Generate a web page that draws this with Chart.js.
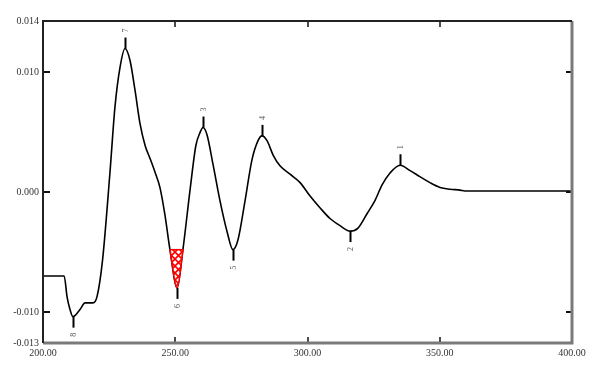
<!DOCTYPE html>
<html><head><meta charset="utf-8">
<script src="https://cdn.jsdelivr.net/npm/chart.js@4"></script>
<style>html,body{margin:0;padding:0;background:#fff}</style>
</head><body>
<canvas id="c" width="597" height="365"></canvas>
<script>
const wavelengths = [200.0,208.0,209.1,210.2,211.3,214.0,215.9,218.9,220.4,222.5,225.3,227.2,229.1,231.0,232.9,234.8,236.7,238.6,240.5,242.3,244.2,246.1,248.0,250.7,252.9,255.6,257.8,259.4,260.5,262.0,264.3,266.9,269.6,271.8,273.7,276.4,279.0,281.3,282.8,284.7,287.0,289.6,293.4,297.2,300.9,304.7,308.5,312.3,316.1,319.1,322.5,325.5,328.2,331.2,335.0,338.8,342.5,346.3,350.1,353.9,357.7,359.5,400.0];
const cdValues = [-0.0070,-0.0070,-0.00875,-0.0098,-0.0104,-0.0098,-0.00925,-0.00925,-0.00875,-0.0057,0.0016,0.0071,0.0104,0.0120,0.0110,0.0085,0.0057,0.0039,0.0028,0.0017,0.0004,-0.0019,-0.0048,-0.0080,-0.0048,0.0002,0.0039,0.0050,0.0054,0.0048,0.0023,-0.0007,-0.0033,-0.0048,-0.0040,-0.0007,0.0027,0.0043,0.0047,0.0043,0.0031,0.0022,0.0015,0.0008,-0.0003,-0.0013,-0.0022,-0.0028,-0.00325,-0.0030,-0.0018,-0.0007,0.0006,0.0016,0.00225,0.0018,0.0013,0.0008,0.0004,0.00025,0.00017,0.0001,0.0001];

const xMin = 200, xMax = 400;
const xTickValues = [200,250,300,350,400];
const xTickLabels = ['200.00','250.00','300.00','350.00','400.00'];
const yMin = -0.0126, yMax = 0.0143;
const yTickValues = [-0.0126,-0.010,0,0.010,0.0143];
const yTickLabels = ['-0.013','-0.010','0.000','0.010','0.014'];

const peakWavelengths = [211.3,231.0,250.7,260.5,271.8,282.8,316.1,335.0];
const peakValues = [-0.0104,0.0120,-0.0080,0.0054,-0.0048,0.0047,-0.00325,0.00225];
const peakLabels = ['8','7','6','3','5','4','2','1'];

const hatchRange = [248.0, 252.9];
const hatchBase = -0.0048;

const curve = wavelengths.map((w,i)=>({x:w,y:cdValues[i]}));
const hatchPts = curve.filter(p=>p.x>=hatchRange[0]&&p.x<=hatchRange[1]);
const hatchTop = hatchRange.map(w=>({x:w,y:hatchBase}));

function makePattern(){
  const pc = document.createElement('canvas');
  pc.width = 7; pc.height = 7;
  const g = pc.getContext('2d');
  g.fillStyle = '#fff'; g.fillRect(0,0,7,7);
  g.strokeStyle = '#ff0000'; g.lineWidth = 1.6;
  g.beginPath(); g.moveTo(0,0); g.lineTo(7,7); g.moveTo(7,0); g.lineTo(0,7); g.stroke();
  return document.getElementById('c').getContext('2d').createPattern(pc,'repeat');
}

const decor = {
  id:'decor',
  afterDatasetsDraw(chart){
    const ctx = chart.ctx, a = chart.chartArea;
    const xs = chart.scales.x, ys = chart.scales.y;
    ctx.save();
    ctx.strokeStyle = '#000'; ctx.lineWidth = 2;
    ctx.font = '8px "Liberation Serif"';
    ctx.fillStyle = '#555';
    ctx.textAlign = 'center'; ctx.textBaseline = 'middle';
    peakWavelengths.forEach((w,i)=>{
      const px = Math.round(xs.getPixelForValue(w))+0.5;
      const py = ys.getPixelForValue(peakValues[i]);
      const dir = peakValues[i] >= 0 ? -1 : 1;
      ctx.beginPath(); ctx.moveTo(px,py); ctx.lineTo(px,py+dir*11); ctx.stroke();
      ctx.save();
      ctx.translate(px, py+dir*18);
      ctx.rotate(-Math.PI/2);
      ctx.fillText(peakLabels[i],0,0);
      ctx.restore();
    });
    ctx.strokeStyle = '#111'; ctx.lineWidth = 2;
    yTickValues.slice(1,-1).forEach(v=>{
      const py = Math.round(ys.getPixelForValue(v));
      ctx.beginPath(); ctx.moveTo(a.left,py); ctx.lineTo(a.left+7,py);
      ctx.moveTo(a.right,py); ctx.lineTo(a.right-6,py); ctx.stroke();
    });
    ctx.lineWidth = 1.5;
    xTickValues.slice(1,-1).forEach(v=>{
      const px = Math.round(xs.getPixelForValue(v));
      ctx.beginPath(); ctx.moveTo(px,a.top); ctx.lineTo(px,a.top+6);
      ctx.moveTo(px,a.bottom); ctx.lineTo(px,a.bottom-6); ctx.stroke();
    });
    ctx.lineWidth = 3; ctx.strokeStyle = '#7a7a7a';
    ctx.beginPath(); ctx.moveTo(a.left,a.bottom); ctx.lineTo(a.right,a.bottom); ctx.lineTo(a.right,a.top); ctx.stroke();
    ctx.lineWidth = 2; ctx.strokeStyle = '#222';
    ctx.beginPath(); ctx.moveTo(a.left,a.bottom); ctx.lineTo(a.left,a.top); ctx.lineTo(a.right,a.top); ctx.stroke();
    ctx.restore();
  }
};

new Chart(document.getElementById('c'), {
  type:'line',
  data:{datasets:[
    {data:hatchTop, borderColor:'#ff0000', borderWidth:1.4, pointRadius:0, fill:false, order:0},
    {data:hatchPts, borderColor:'#ff0000', borderWidth:1.6, pointRadius:0, backgroundColor:makePattern(), fill:{value:hatchBase}, cubicInterpolationMode:'monotone', order:1},
    {data:curve, borderColor:'#000', borderWidth:1.6, pointRadius:0, fill:false, cubicInterpolationMode:'monotone', order:2}
  ]},
  options:{
    responsive:false, animation:false,
    layout:{padding:{top:21,right:25,left:0,bottom:0}},
    plugins:{legend:{display:false}, tooltip:{enabled:false}},
    scales:{
      x:{type:'linear', min:xMin, max:xMax,
        afterBuildTicks:s=>{s.ticks = xTickValues.map(v=>({value:v}));},
        afterFit:s=>{s.height = 22;},
        grid:{display:false, drawTicks:false}, border:{display:false},
        ticks:{padding:4, maxRotation:0, autoSkip:false, color:'#333', font:{family:'"Liberation Serif"', size:10},
          callback:(v,i)=>xTickLabels[i]}},
      y:{type:'linear', min:yMin, max:yMax,
        afterBuildTicks:s=>{s.ticks = yTickValues.map(v=>({value:v}));},
        afterFit:s=>{s.width = 43;},
        grid:{display:false, drawTicks:false}, border:{display:false},
        ticks:{padding:4, autoSkip:false, color:'#333', font:{family:'"Liberation Serif"', size:10},
          callback:(v,i)=>yTickLabels[i]}}
    }
  },
  plugins:[decor]
});
</script>
</body></html>
